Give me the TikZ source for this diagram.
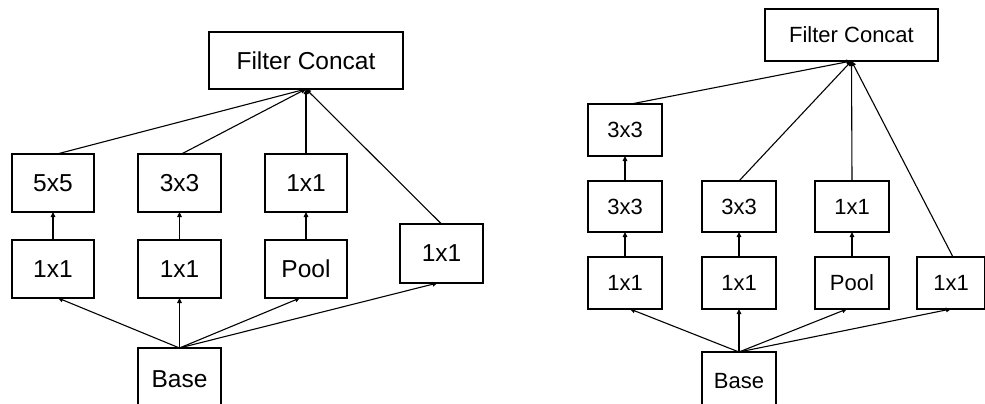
\documentclass[tikz,border=0pt]{standalone}
\usepackage{fontspec}
\setmainfont{Liberation Sans}
\usetikzlibrary{arrows.meta}
\begin{document}
\begin{tikzpicture}[x=1pt,y=-1pt,
  blk/.style={draw, line width=2pt, inner sep=0pt, outer sep=0pt, align=center},
  bigf/.style={font=\fontsize{24.5}{26}\selectfont},
  smallf/.style={font=\fontsize{22}{24}\selectfont},
  arr/.style={line width=1.1pt, -{Triangle[length=5pt,width=4.5pt]}}]
\useasboundingbox (0,0) rectangle (985,404);
\clip (0,0) rectangle (985,404);
% ---- naive module ----
\begin{scope}[bigf]
\node[blk, minimum width=194, minimum height=57] (fcA) at (306,60.5) {Filter Concat};
\node[blk, minimum width=82, minimum height=58] (a55) at (53,183) {5x5};
\node[blk, minimum width=83, minimum height=58] (a33) at (179.5,183) {3x3};
\node[blk, minimum width=82, minimum height=58] (a11t) at (306,183) {1x1};
\node[blk, minimum width=82, minimum height=58] (a11a) at (53,269) {1x1};
\node[blk, minimum width=83, minimum height=58] (a11b) at (179.5,269) {1x1};
\node[blk, minimum width=82, minimum height=58] (apool) at (306,269) {Pool};
\node[blk, minimum width=83, minimum height=59] (a11r) at (441.5,253.5) {1x1};
\node[blk, minimum width=83, minimum height=62] (abase) at (179.5,379) {Base};
\end{scope}
\draw[arr] ([xshift=4pt]a55.north) -- (fcA.south);
\draw[arr] ([xshift=2pt]a33.north) -- (fcA.south);
\draw[arr] (a11t.north) -- (fcA.south);
\draw[arr] (a11r.north) -- (fcA.south);
\draw[arr] (a11a.north) -- (a55.south);
\draw[arr] (a11b.north) -- (a33.south);
\draw[arr] (apool.north) -- (a11t.south);
\draw[arr] (abase.north) -- ([xshift=5pt]a11a.south);
\draw[arr] (abase.north) -- (a11b.south);
\draw[arr] (abase.north) -- ([xshift=-6pt]apool.south);
\draw[arr] (abase.north) -- ([xshift=-4pt]a11r.south);
% ---- factorised module ----
\begin{scope}[smallf]
\node[blk, minimum width=173, minimum height=52] (fcB) at (851.5,35) {Filter Concat};
\node[blk, minimum width=74, minimum height=52] (b33t) at (625,130) {3x3};
\node[blk, minimum width=74, minimum height=51] (b33m) at (625,206.5) {3x3};
\node[blk, minimum width=74, minimum height=51] (b33c) at (739,206.5) {3x3};
\node[blk, minimum width=74, minimum height=51] (b11t) at (852,206.5) {1x1};
\node[blk, minimum width=74, minimum height=52] (b11a) at (625,283) {1x1};
\node[blk, minimum width=74, minimum height=52] (b11b) at (739,283) {1x1};
\node[blk, minimum width=74, minimum height=52] (bpool) at (852,283) {Pool};
\node[blk, minimum width=68, minimum height=52] (b11r) at (951,283) {1x1};
\node[blk, minimum width=74, minimum height=58] (bbase) at (739,381) {Base};
\end{scope}
\draw[arr] ([xshift=6pt]b33t.north) -- (fcB.south);
\draw[arr] (b33c.north) -- (fcB.south);
\draw[arr] (b11t.north) -- (fcB.south);
\draw[arr] ([xshift=2pt]b11r.north) -- (fcB.south);
\draw[arr] (b33m.north) -- (b33t.south);
\draw[arr] (b11a.north) -- (b33m.south);
\draw[arr] (b11b.north) -- (b33c.south);
\draw[arr] (bpool.north) -- (b11t.south);
\draw[arr] (bbase.north) -- ([xshift=5pt]b11a.south);
\draw[arr] (bbase.north) -- (b11b.south);
\draw[arr] (bbase.north) -- ([xshift=-5pt]bpool.south);
\draw[arr] (bbase.north) -- (b11r.south);
\end{tikzpicture}
\end{document}
